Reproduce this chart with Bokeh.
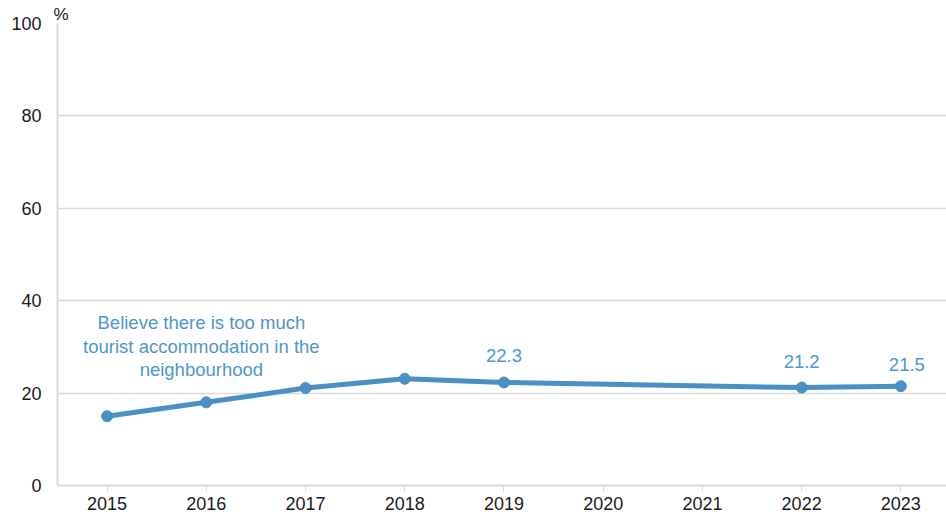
from bokeh.plotting import figure
from bokeh.models import ColumnDataSource, Label, FixedTicker, Title
from bokeh.embed import file_html
from bokeh.resources import INLINE

years = [2015, 2016, 2017, 2018, 2019, 2022, 2023]
values = [15.0, 18.0, 21.1, 23.1, 22.3, 21.2, 21.5]
tick_years = [2015, 2016, 2017, 2018, 2019, 2020, 2021, 2022, 2023]
label_years = [2019, 2022, 2023]
label_values = [22.3, 21.2, 21.5]
label_texts = ["22.3", "21.2", "21.5"]
series_name = "Believe there is too much\ntourist accommodation in the\nneighbourhood"
unit_text = "%"

FONT = "Liberation Sans"
LINE_C = "#4a90c4"
TEXT_C = "#4d97cc"
GRID_C = "#d9d9d9"
TICK_C = "#1a1a1a"

p = figure(width=946, height=516, output_backend="svg", toolbar_location=None,
           x_range=(2014.5, 2023.46), y_range=(0, 100),
           min_border_left=57, min_border_right=0, min_border_top=23, min_border_bottom=31)
p.outline_line_color = None
p.background_fill_color = "white"

p.add_layout(Title(text=unit_text, align="left", offset=-4, text_font=FONT,
                   text_font_size="17px", text_font_style="normal", text_color=TICK_C,
                   standoff=0), "above")

src = ColumnDataSource(dict(x=years, y=values))
p.line("x", "y", source=src, line_color=LINE_C, line_width=5, line_join="round")
p.scatter("x", "y", source=src, size=11, fill_color=LINE_C, line_color=LINE_C)

label_style = [(0, 20), (0, 20), (6, 15)]
for (lx, ly, lt), (xo, yo) in zip(zip(label_years, label_values, label_texts), label_style):
    p.add_layout(Label(x=lx, y=ly, text=lt, text_align="center", text_baseline="bottom",
                       x_offset=xo, y_offset=yo, text_color=TEXT_C,
                       text_font_size="18.5px", text_font=FONT))

p.add_layout(Label(x=2015.95, y=22.6, text=series_name, text_align="center",
                   text_baseline="bottom", text_color=TEXT_C, text_font_size="18.5px",
                   text_font=FONT, text_line_height=1.12, y_offset=1))

# axes
p.xaxis.ticker = FixedTicker(ticks=tick_years)
p.xaxis.major_label_overrides = {y: str(y) for y in tick_years}
p.xaxis.minor_tick_line_color = None
p.xaxis.major_tick_in = 0
p.xaxis.major_tick_out = 6
p.xaxis.major_tick_line_color = GRID_C
p.xaxis.axis_line_color = GRID_C
p.xaxis.axis_line_width = 2
p.xaxis.major_label_standoff = 5
p.xaxis.major_label_text_font = FONT
p.xaxis.major_label_text_font_size = "18px"
p.xaxis.major_label_text_color = TICK_C

p.yaxis.ticker = FixedTicker(ticks=[0, 20, 40, 60, 80, 100])
p.yaxis.minor_tick_line_color = None
p.yaxis.major_tick_in = 0
p.yaxis.major_tick_out = 0
p.yaxis.axis_line_color = GRID_C
p.yaxis.axis_line_width = 2
p.yaxis.major_label_standoff = 16
p.yaxis.major_label_text_font = FONT
p.yaxis.major_label_text_font_size = "18px"
p.yaxis.major_label_text_color = TICK_C

p.xgrid.grid_line_color = None
p.ygrid.grid_line_color = GRID_C
p.ygrid.grid_line_width = 1.5

open("out.html", "w").write(file_html(p, INLINE))
